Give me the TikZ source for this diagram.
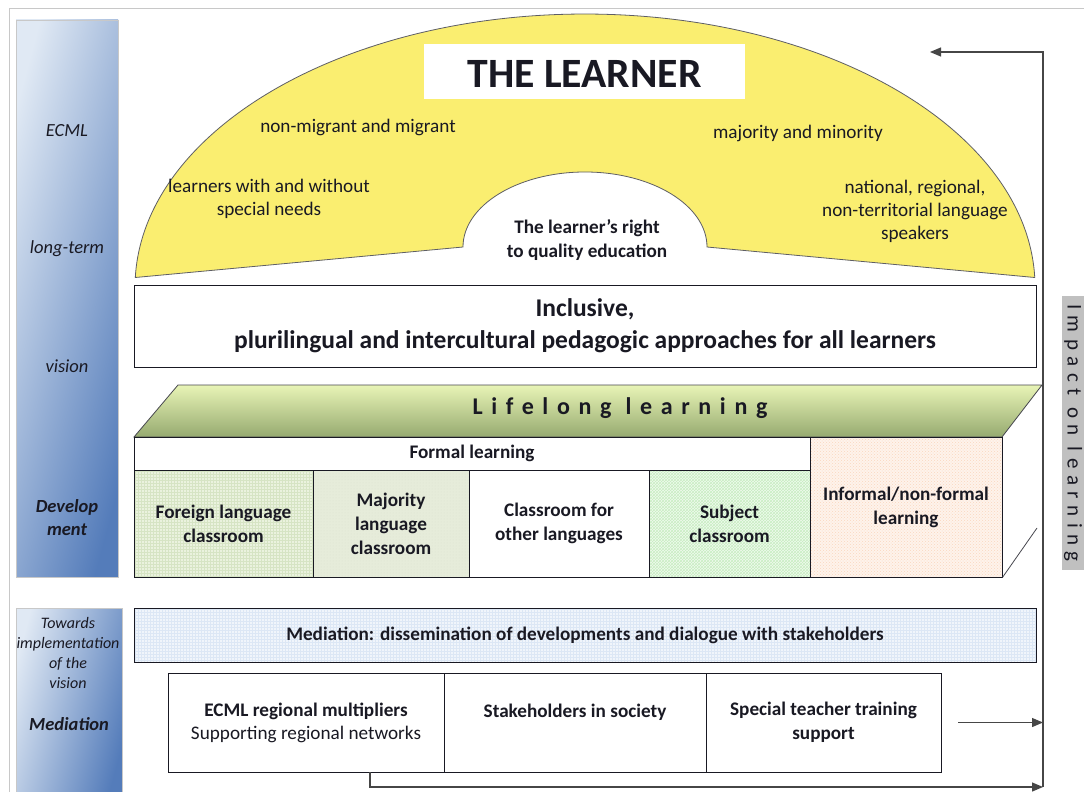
\documentclass[tikz,border=0pt]{standalone}
\usepackage{fontspec}
\setmainfont{Carlito}
\usetikzlibrary{arrows.meta,patterns}

\definecolor{ink}{RGB}{25,25,35}
\definecolor{framegray}{RGB}{200,200,200}
\definecolor{barlight}{RGB}{224,233,244}
\definecolor{bardark}{RGB}{84,124,186}
\definecolor{learnyellow}{RGB}{250,238,112}
\definecolor{lltop}{RGB}{232,244,182}
\definecolor{llbot}{RGB}{150,170,112}
\definecolor{gridgreen}{RGB}{234,242,222}
\definecolor{gridline}{RGB}{214,228,196}
\definecolor{majgreen}{RGB}{230,236,218}
\definecolor{subjgreen}{RGB}{240,250,238}
\definecolor{subjline}{RGB}{200,238,194}
\definecolor{peach}{RGB}{254,243,235}
\definecolor{peachline}{RGB}{250,214,190}
\definecolor{medblue}{RGB}{240,245,251}
\definecolor{medline}{RGB}{220,231,245}
\definecolor{impactgray}{RGB}{192,192,192}
\definecolor{flowgray}{RGB}{70,70,70}

\begin{document}
\begin{tikzpicture}[x=1pt,y=-1pt,
    every node/.style={font=\fontsize{19.2}{23}\selectfont, text=ink},
    box/.style={draw=ink, line width=0.9pt, align=center, inner sep=0pt},
    cell/.style={box, minimum height=107, font=\bfseries\fontsize{19.2}{24}\selectfont},
    sidetext/.style={font=\itshape\fontsize{18.5}{23}\selectfont, align=center},
    sidebold/.style={font=\bfseries\itshape\fontsize{18.5}{23}\selectfont, align=center},
    yellowtext/.style={align=center},
    flow/.style={draw=flowgray, line width=1.2pt},
    tip/.style={-{Triangle[length=11pt,width=9pt]}}]
\useasboundingbox (0,0) rectangle (1084,792);
\fill[white] (0,0) rectangle (1084,792);

% page frame
\draw[framegray, line width=1pt] (9,792) -- (9,9) -- (1084,9);

% side bars
\shade[left color=barlight, right color=bardark, shading angle=75, draw=framegray] (16,20) rectangle (118,577);
\shade[left color=barlight, right color=bardark, shading angle=75, draw=framegray] (16,608) rectangle (122,800);
\node[sidetext] (ecml) at (67,131) {ECML};
\node[sidetext] (longterm) at (67,249) {long-term};
\node[sidetext] (vision) at (67,366) {vision};
\node[sidebold] (develop) at (67,518) {Develop\\ment};
\node[sidetext, font=\itshape\fontsize{16}{19.7}\selectfont] (towards) at (68,653) {Towards\\implementation\\of the\\vision};
\node[sidebold] (mediation) at (69,724) {Mediation};

% the learner
\draw[ink!70, line width=0.8pt, fill=learnyellow] (135.3,277.5)
    arc[start angle=182, end angle=358, x radius=450, y radius=273]
    -- (707,247) arc[start angle=0, end angle=-180, x radius=122, y radius=75] -- cycle;
\node[fill=white, minimum width=321, minimum height=55, inner sep=0pt, text height=33, text depth=0,
    font=\bfseries\fontsize{41.7}{45}\selectfont] (learner) at (584.5,71.5) {THE LEARNER};
\node[yellowtext] (nonmig) at (358,127) {non-migrant and migrant};
\node[yellowtext] (majmin) at (798,133) {majority and minority};
\node[yellowtext] (needs) at (269,199) {learners with and without\\special needs};
\node[yellowtext] (national) at (915,211) {national, regional,\\non-territorial language\\speakers};
\node[yellowtext, font=\bfseries\fontsize{19.2}{24}\selectfont] (right) at (587,240) {The learner’s right\\to quality education};

% approaches
\node[box, minimum width=902, minimum height=82, font=\bfseries\fontsize{25.5}{32}\selectfont] (incl) at (585,326)
    {Inclusive,\\plurilingual and intercultural pedagogic approaches for all learners};

% lifelong learning
\shade[top color=lltop, bottom color=llbot, draw=ink!80, line width=0.8pt]
    (178,385) -- (1042,385) -- (1002,437) -- (134,437) -- cycle;
\node[font=\bfseries\fontsize{24}{28}\selectfont\addfontfeature{LetterSpace=36}] (lifelong) at (620,408) {Lifelong learning};

\node[box, minimum width=676, minimum height=33, font=\bfseries\fontsize{19.2}{23}\selectfont] (formal) at (472,453.5) {Formal learning};
\node[cell, minimum width=179, preaction={fill=gridgreen}, pattern=grid, pattern color=gridline] (foreign) at (223.5,523.5) {Foreign language\\classroom};
\node[cell, minimum width=156, preaction={fill=majgreen}, pattern=dots, pattern color=majgreen!90!gray] (majority) at (391,523.5) {Majority\\language\\classroom};
\node[cell, minimum width=180, fill=white] (other) at (559,523.5) {Classroom for\\other languages};
\node[cell, minimum width=161, preaction={fill=subjgreen}, pattern=crosshatch, pattern color=subjline] (subject) at (729.5,523.5) {Subject\\classroom};
\node[cell, minimum width=192, minimum height=140, preaction={fill=peach}, pattern=crosshatch dots, pattern color=peachline] (informal) at (906,507) {Informal/non-formal\\learning};
\draw[ink!80, line width=0.8pt] (informal.south east) -- (1037,528);

% mediation
\node[box, minimum width=902, minimum height=54, preaction={fill=medblue}, pattern=grid, pattern color=medline,
    font=\bfseries\fontsize{19.2}{23}\selectfont] (medbox) at (585,635)
    {Mediation: dissemination of developments and dialogue with stakeholders};
\node[box, minimum width=276, minimum height=99] (mult) at (306,722.5)
    {\textbf{ECML regional multipliers}\\Supporting regional networks};
\node[box, minimum width=262, minimum height=99, font=\bfseries\fontsize{19.2}{23}\selectfont] (stake) at (575,722.5)
    {Stakeholders in society\\\mbox{}};
\node[box, minimum width=235, minimum height=99, font=\bfseries\fontsize{19.2}{24}\selectfont] (teach) at (823.5,722.5)
    {Special teacher training\\support};

% impact on learning
\coordinate (rtop) at (1043,52);
\coordinate (rbot) at (1043,787);
\coordinate (intolearner) at (930,52);
\coordinate (multout) at (370,772);
\draw[flow, tip] (rbot) -- (rtop) -- (intolearner);
\draw[flow, tip] ([xshift=17]teach.east) -- (teach.east -| rtop);
\draw[flow, tip] (multout) |- (rbot);
\node[rotate=-90, fill=impactgray, minimum width=274, minimum height=22, inner sep=0pt,
    font=\fontsize{21}{24}\selectfont\addfontfeature{LetterSpace=31}] (impact) at (1073,433) {Impact on learning};
\end{tikzpicture}
\end{document}
